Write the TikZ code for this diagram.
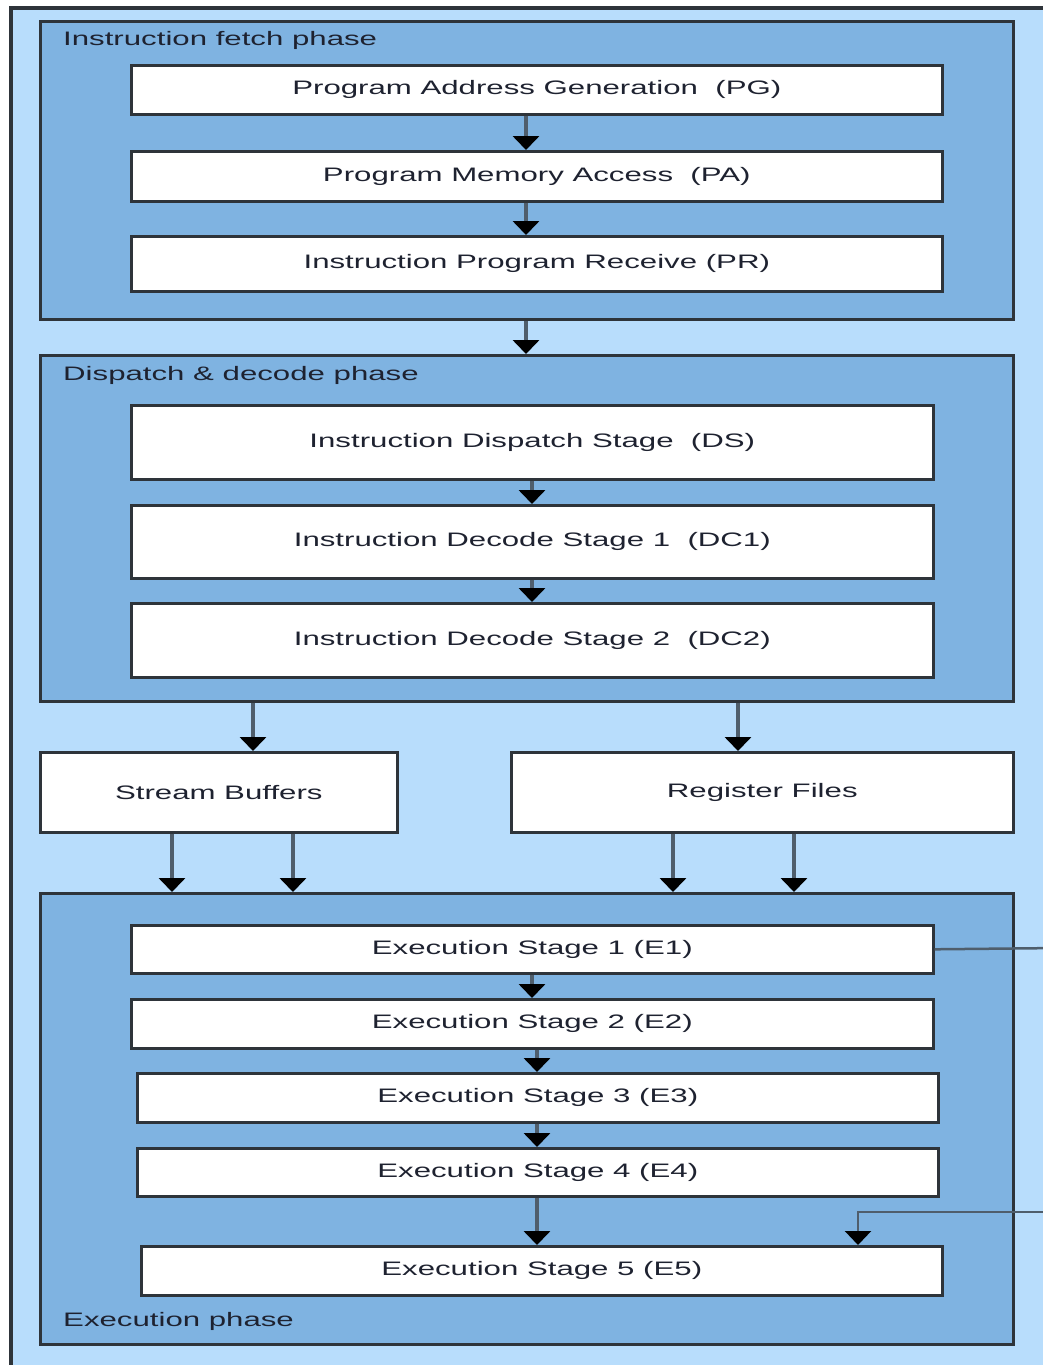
\documentclass[tikz,border=0pt]{standalone}
\usepackage{fontspec}
\setmainfont{Liberation Sans}
\usetikzlibrary{arrows.meta}
\definecolor{outerblue}{HTML}{B8DDFC}
\definecolor{innerblue}{HTML}{7FB3E1}
\definecolor{edge}{HTML}{2E343A}
\definecolor{shaft}{HTML}{4F5E6C}
\definecolor{txt}{HTML}{1E2230}
\newcommand{\wtxt}[1]{\scalebox{1.6}[1]{#1}}
\tikzset{
  phasebox/.style={draw=edge, line width=3pt, fill=innerblue, anchor=north west, inner sep=0pt},
  stagebox/.style={draw=edge, line width=2.6pt, fill=white, anchor=north west, inner sep=0pt,
    font=\fontsize{19.5}{23}\selectfont, text=txt},
  phaselabel/.style={anchor=west, inner sep=0pt, font=\fontsize{19.5}{23}\selectfont, text=txt},
  arr/.style={draw=shaft, line width=3.5pt, -{Triangle[width=26pt,length=14pt,color=black]}},
  wire/.style={draw=shaft, line width=2.5pt},
}
\begin{document}
\begin{tikzpicture}[x=1pt,y=-1pt]
\useasboundingbox (0,0) rectangle (1043,1365);
\fill[white] (0,0) rectangle (1043,1365);
\clip (0,0) rectangle (1043,1365);
% outer frame (cropped on right and bottom)
\draw[draw=edge, line width=3.5pt, fill=outerblue] (11,8) rectangle (1080,1400);

% column coordinates
\coordinate (cA) at (526,0);
\coordinate (cB) at (532,0);
\coordinate (cC) at (537,0);
\coordinate (cSB) at (253,0);
\coordinate (cRF) at (738,0);
\coordinate (s1) at (172,0);
\coordinate (s2) at (293,0);
\coordinate (r1) at (673,0);
\coordinate (r2) at (794,0);
\coordinate (fb) at (858,0);

% phase boxes
\node[phasebox, minimum width=973pt, minimum height=298pt] (fetch) at (39,20) {};
\node[phasebox, minimum width=973pt, minimum height=346pt] (disp) at (39,354) {};
\node[phasebox, minimum width=973pt, minimum height=451pt] (exec) at (39,892) {};
\node[phaselabel] (lf) at (63,40) {\wtxt{Instruction fetch phase}};
\node[phaselabel] (ld) at (63,375) {\wtxt{Dispatch \& decode phase}};
\node[phaselabel] (le) at (63,1321) {\wtxt{Execution phase}};

% fetch stages
\node[stagebox, minimum width=811pt, minimum height=49pt] (pg) at (130,64) {\wtxt{Program Address Generation~~(PG)}};
\node[stagebox, minimum width=811pt, minimum height=50pt] (pa) at (130,150) {\wtxt{Program Memory Access~~(PA)}};
\node[stagebox, minimum width=811pt, minimum height=55pt] (pr) at (130,235) {\wtxt{Instruction Program Receive (PR)}};

% dispatch stages
\node[stagebox, minimum width=802pt, minimum height=74pt] (ds) at (130,404) {\wtxt{Instruction Dispatch Stage~~(DS)}};
\node[stagebox, minimum width=802pt, minimum height=73pt] (dc1) at (130,504) {\wtxt{Instruction Decode Stage 1~~(DC1)}};
\node[stagebox, minimum width=802pt, minimum height=74pt] (dc2) at (130,602) {\wtxt{Instruction Decode Stage 2~~(DC2)}};

% buffers
\node[stagebox, minimum width=357pt, minimum height=80pt] (sb) at (39,751) {\wtxt{Stream Buffers}};
\node[stagebox, minimum width=502pt, minimum height=80pt] (rf) at (510,751) {\wtxt{Register Files}};

% execution stages
\node[stagebox, minimum width=802pt, minimum height=48pt] (e1) at (130,924) {\wtxt{Execution Stage 1 (E1)}};
\node[stagebox, minimum width=802pt, minimum height=49pt] (e2) at (130,998) {\wtxt{Execution Stage 2 (E2)}};
\node[stagebox, minimum width=801pt, minimum height=49pt] (e3) at (136,1072) {\wtxt{Execution Stage 3 (E3)}};
\node[stagebox, minimum width=801pt, minimum height=48pt] (e4) at (136,1147) {\wtxt{Execution Stage 4 (E4)}};
\node[stagebox, minimum width=801pt, minimum height=49pt] (e5) at (140,1245) {\wtxt{Execution Stage 5 (E5)}};

% arrows fetch
\draw[arr] (pg.south -| cA) -- (pa.north -| cA);
\draw[arr] (pa.south -| cA) -- (pr.north -| cA);
\draw[arr] (fetch.south -| cA) -- (disp.north -| cA);
% arrows dispatch
\draw[arr] (ds.south -| cB) -- (dc1.north -| cB);
\draw[arr] (dc1.south -| cB) -- (dc2.north -| cB);
\draw[arr] (disp.south -| cSB) -- (sb.north -| cSB);
\draw[arr] (disp.south -| cRF) -- (rf.north -| cRF);
% buffers to execution
\draw[arr] (sb.south -| s1) -- (exec.north -| s1);
\draw[arr] (sb.south -| s2) -- (exec.north -| s2);
\draw[arr] (rf.south -| r1) -- (exec.north -| r1);
\draw[arr] (rf.south -| r2) -- (exec.north -| r2);
% execution arrows
\draw[arr] (e1.south -| cB) -- (e2.north -| cB);
\draw[arr] (e2.south -| cC) -- (e3.north -| cC);
\draw[arr] (e3.south -| cC) -- (e4.north -| cC);
\draw[arr] (e4.south -| cC) -- (e5.north -| cC);
% feedback wires
\coordinate (w1) at (1060,948);
\coordinate (w2) at (1060,1212);
\draw[wire] (e1.east) -- (w1);
\draw[arr, line width=2.5pt] (w2) -- (w2 -| fb) -- (e5.north -| fb);
\end{tikzpicture}
\end{document}
